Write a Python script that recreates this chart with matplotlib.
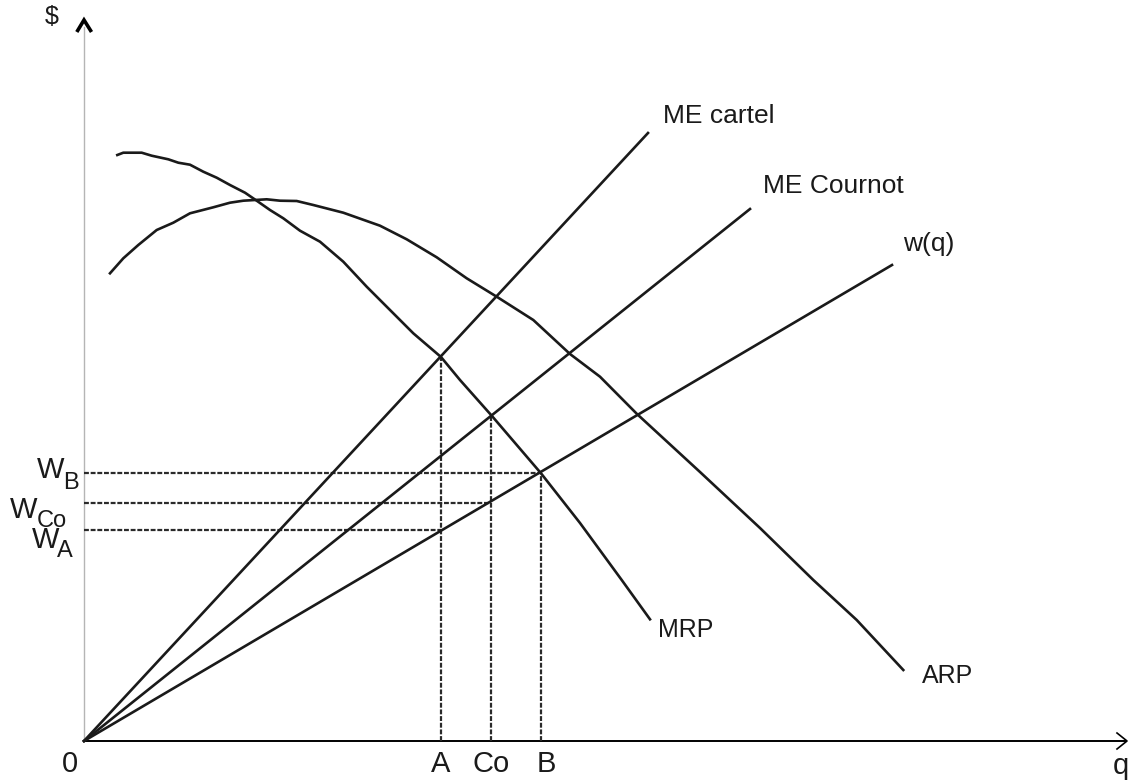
import matplotlib
matplotlib.use("Agg")
import matplotlib.pyplot as plt

plt.rcParams['font.family'] = ['Liberation Sans', 'DejaVu Sans']

# ---- data (q units, $ units) ----
me_cartel_q = [0, 56.4]
me_cartel_v = [0, 60.8]
me_cournot_q = [0, 66.6]
me_cournot_v = [0, 53.2]
wage_q = [0, 80.8]
wage_v = [0, 47.6]

mrp_q = [3.33, 3.93, 5.77, 6.77, 8.43, 9.43, 10.6, 11.93, 13.27, 14.6, 16.1, 17.27,
         18.6, 19.93, 21.6, 23.6, 25.93, 28.27, 30.6, 32.93, 35.7, 37.6, 40.77,
         45.7, 49.6, 53.77, 56.6]
mrp_v = [58.6, 58.83, 58.83, 58.53, 58.17, 57.83, 57.63, 56.93, 56.33, 55.6, 54.83,
         54.03, 53.1, 52.27, 51.03, 49.93, 47.93, 45.43, 43.1, 40.77, 38.4, 36.1,
         32.53, 26.77, 21.8, 16.1, 12.17]

arp_q = [2.6, 3.93, 5.43, 7.27, 8.93, 10.6, 12.93, 14.6, 15.93, 18.27, 19.6, 21.27,
         22.93, 25.93, 29.6, 32.27, 35.27, 38.27, 41.27, 44.93, 48.6, 51.6, 55.3,
         61.6, 67.6, 72.93, 77.27, 81.93]
arp_v = [46.77, 48.27, 49.6, 51.1, 51.83, 52.77, 53.37, 53.83, 54.03, 54.17, 54.03,
         54.0, 53.6, 52.83, 51.53, 50.17, 48.37, 46.27, 44.43, 42.1, 38.7, 36.43,
         32.7, 26.9, 21.3, 16.1, 12.1, 7.1]

q_points = [35.7, 40.7, 45.7]          # A, Co, B
q_labels = ["A", "Co", "B"]
mrp_at_q = [38.4, 32.5, 26.8]          # top of vertical dashed lines
wages = [21.1, 23.8, 26.8]             # W_A, W_Co, W_B
wage_subs = ["A", "Co", "B"]

# ---- figure ----
fig = plt.figure(figsize=(11.28, 7.82), dpi=100)
ax = fig.add_axes([0, 0, 1, 1])
ax.set_xlim(-8.4, 104.4)
ax.set_ylim(-4.1, 74.1)
ax.axis('off')

# axes
ax.plot([0, 0], [0, 71.4], color='#b5b5b5', lw=1.0)
ax.plot([-0.72, 0, 0.75], [70.9, 72.1, 70.9], color='black', lw=2.6,
        solid_joinstyle='miter', solid_capstyle='butt')
ax.plot([0, 104.1], [0, 0], color='black', lw=1.4)
ax.plot([103.3, 104.3, 103.3], [0.8, 0, -0.8], color='black', lw=1.2)

# dashed guides
dash = dict(color='#2a2a2a', lw=1.6, ls=(0, (2.2, 0.8)))
for qq, top in zip(q_points, mrp_at_q):
    ax.plot([qq, qq], [0, top], **dash)
for qq, ww in zip([35.7, 40.7, 45.7], wages):
    ax.plot([0, qq], [ww, ww], **dash)

# lines
lw = 1.9
ax.plot(me_cartel_q, me_cartel_v, color='#1a1a1a', lw=lw)
ax.plot(me_cournot_q, me_cournot_v, color='#1a1a1a', lw=lw)
ax.plot(wage_q, wage_v, color='#1a1a1a', lw=lw)
ax.plot(mrp_q, mrp_v, color='#1a1a1a', lw=lw)
ax.plot(arp_q, arp_v, color='#1a1a1a', lw=lw)

tc = '#1a1a1a'
# curve labels
ax.text(57.9, 61.8, "ME cartel", fontsize=19, color=tc, va='baseline', ha='left')
ax.text(67.9, 54.8, "ME Cournot", fontsize=19, color=tc, va='baseline', ha='left')
ax.text(81.9, 49.0, "w(q)", fontsize=19, color=tc, va='baseline', ha='left')
ax.text(57.4, 10.4, "MRP", fontsize=18, color=tc, va='baseline', ha='left')
ax.text(83.8, 5.8, "ARP", fontsize=18, color=tc, va='baseline', ha='left')

# axis labels
ax.text(-3.97, 71.65, "$", fontsize=18, color=tc, va='baseline', ha='left')
ax.text(-2.2, -3.1, "0", fontsize=21, color=tc, va='baseline', ha='left')
ax.text(102.9, -3.3, "q", fontsize=21, color=tc, va='baseline', ha='left')
for xpos, lab in zip([35.7, 40.7, 46.25], q_labels):
    ax.text(xpos, -3.1, lab, fontsize=21, color=tc, va='baseline', ha='center')

# wage labels: W with subscripts
w_pos = [(-5.2, 19.3, -2.7, 18.4), (-7.4, 22.3, -4.7, 21.4), (-4.7, 26.3, -2.1, 25.2)]
for (wx, wy, sx, sy), sub in zip(w_pos, wage_subs):
    ax.text(wx, wy, "W", fontsize=21, color=tc, va='baseline', ha='left')
    ax.text(sx, sy, sub, fontsize=17, color=tc, va='baseline', ha='left')

fig.savefig("out.png", dpi=100)
